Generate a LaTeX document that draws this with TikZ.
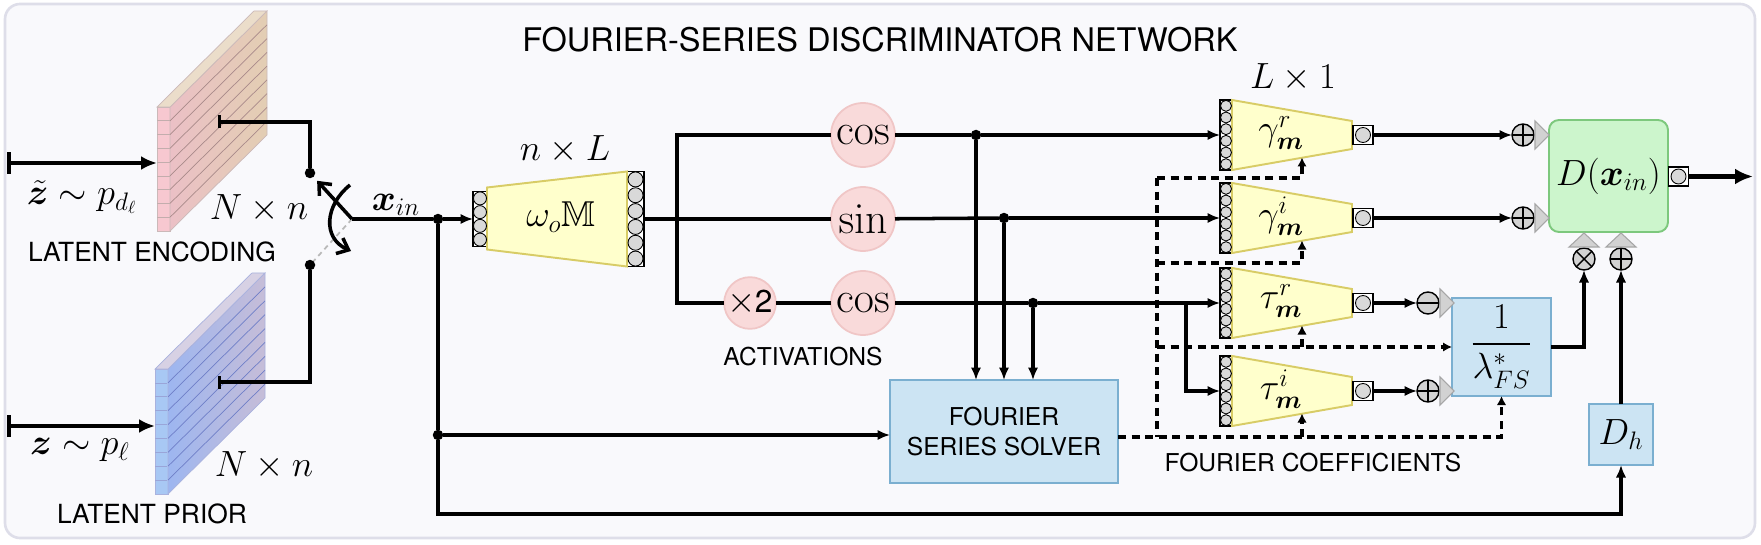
\documentclass[tikz,border=0pt]{standalone}
\usepackage[no-math]{fontspec}
\setsansfont{TeX Gyre Heros}
\usepackage{amsmath}
\usepackage{amssymb}
\usepackage{bm}
\usepackage{xcolor}
\usetikzlibrary{arrows.meta,calc}

\definecolor{framefill}{HTML}{F9F9FC}
\definecolor{frameline}{HTML}{DEDEE9}
\definecolor{trapfill}{HTML}{FFFFCC}
\definecolor{trapline}{HTML}{D8CC66}
\definecolor{actfill}{HTML}{F9DADA}
\definecolor{actline}{HTML}{F0C6C6}
\definecolor{boxfill}{HTML}{CCE4F3}
\definecolor{boxline}{HTML}{7BAFD0}
\definecolor{discfill}{HTML}{CCF5CC}
\definecolor{discline}{HTML}{7DC87D}
\definecolor{encfrontc}{HTML}{F7C8D0}
\definecolor{encleft}{HTML}{EBC0C6}
\definecolor{encright}{HTML}{E3CEB3}
\definecolor{encline}{HTML}{A98A8A}
\definecolor{priorfrontc}{HTML}{A8C8F4}
\definecolor{priorleft}{HTML}{9DB6F0}
\definecolor{priorright}{HTML}{C6BDD8}
\definecolor{priorline}{HTML}{6F7FC8}

\newcommand{\bigmath}{\fontsize{20.5}{24}\selectfont}
\newcommand{\actmath}{\fontsize{23}{26}\selectfont}
\newcommand{\captext}{\sffamily\fontsize{15}{18}\selectfont}
\newcommand{\smallcap}{\sffamily\fontsize{14}{17}\selectfont}
\newcommand{\titletext}{\sffamily\fontsize{18.5}{22}\selectfont}
\newcommand{\fillcol}[3]{\foreach \k in {1,...,#2}{\draw[line width=0.5pt,fill=gray!30] ($(#1.north)!{(\k-0.5)/#2}!(#1.south)$) circle (#3);}}

\tikzset{
  every node/.style={inner sep=0pt,outer sep=0pt},
  wire/.style={line width=2pt},
  arr/.style={wire,-{Latex[length=2.5mm,width=2.1mm]}},
  inarr/.style={line width=2.5pt,{Bar[width=4.4mm]}-{Latex[length=3.2mm,width=2.8mm]}},
  tapline/.style={line width=1.8pt,{Bar[width=2.6mm]}-},
  coef/.style={line width=1.8pt,dash pattern=on 1.6mm off 1.1mm},
  coefarr/.style={coef,-{Latex[length=1.8mm,width=1.9mm]}},
  dot/.style={circle,fill=black,minimum size=2.1mm},
  col/.style={draw=black,fill=white,line width=1.1pt},
  outsq/.style={col,minimum width=4mm,minimum height=3.8mm},
  trap/.style={draw=trapline,fill=trapfill,line width=1.1pt},
  act/.style={circle,draw=actline,fill=actfill,line width=1pt,minimum size=12.8mm,font=\actmath},
  solver/.style={draw=boxline,fill=boxfill,line width=1.1pt},
  opcirc/.style={circle,draw=black,fill=gray!35,line width=0.8pt,minimum size=4.4mm},
  plusop/.style={opcirc,path picture={\draw[line width=0.8pt]
      (path picture bounding box.north) -- (path picture bounding box.south)
      (path picture bounding box.west) -- (path picture bounding box.east);}},
  minusop/.style={opcirc,path picture={\draw[line width=0.8pt]
      (path picture bounding box.west) -- (path picture bounding box.east);}},
  timesop/.style={opcirc,path picture={\draw[line width=0.8pt]
      (path picture bounding box.north west) -- (path picture bounding box.south east)
      (path picture bounding box.south west) -- (path picture bounding box.north east);}},
  tri/.style={draw=gray!70,fill=gray!35,line width=0.6pt},
}

\begin{document}
\begin{tikzpicture}[x=0.2mm,y=-0.2mm]
        \useasboundingbox (0,0) rectangle (1761,545);
        \draw[draw=frameline,fill=framefill,line width=1.5pt,rounded corners=3mm] (5,4) rectangle (1755,538);
        \node[font=\titletext] (title) at (880,40) {FOURIER-SERIES DISCRIMINATOR NETWORK};

        % latent slabs
        \node[draw=encline!60,fill=encfrontc,line width=0.4pt,minimum width=2.6mm,minimum height=24.8mm] (encfront) at (163.5,169) {};
        \draw[draw=encline!60,left color=encleft,right color=encright,line width=0.4pt] (encfront.north east) -- ++(97,-96) -- ++(0,124) -- (encfront.south east) -- cycle;
        \draw[draw=encline!60,fill=encright!70,line width=0.4pt] (encfront.north west) -- (encfront.north east) -- ++(97,-96) -- ++(-13,0) -- cycle;
        \foreach \k in {1,...,8}{
          \draw[encline,line width=0.4pt] ($(encfront.north east)!\k/9!(encfront.south east)$) -- ++(97,-96);
          \draw[encline!70,line width=0.4pt] ($(encfront.north west)!\k/9!(encfront.south west)$) -- ++(13,0);
        }
        \node[draw=priorline!60,fill=priorfrontc,line width=0.4pt,minimum width=2.6mm,minimum height=25mm] (priorfront) at (161.5,431.5) {};
        \draw[draw=priorline!60,left color=priorleft,right color=priorright,line width=0.4pt] (priorfront.north east) -- ++(97,-96) -- ++(0,125) -- (priorfront.south east) -- cycle;
        \draw[draw=priorline!60,fill=priorright!70,line width=0.4pt] (priorfront.north west) -- (priorfront.north east) -- ++(97,-96) -- ++(-13,0) -- cycle;
        \foreach \k in {1,...,8}{
          \draw[priorline,line width=0.4pt] ($(priorfront.north east)!\k/9!(priorfront.south east)$) -- ++(97,-96);
          \draw[priorline!70,line width=0.4pt] ($(priorfront.north west)!\k/9!(priorfront.south west)$) -- ++(12,0);
        }

        \coordinate (ztsrc) at (7,163);
        \coordinate (zsrc) at (7,426);
        \draw[inarr] (ztsrc) -- (ztsrc -| encfront.west);
        \draw[inarr] (zsrc) -- (zsrc -| priorfront.west);
        \node[font=\bigmath] (ztlab) at (82,197) {$\tilde{\bm z}\sim p_{d_\ell}$};
        \node[font=\bigmath] (zlab) at (80,450) {$\bm z\sim p_\ell$};
        \node[font=\bigmath] (encdim) at (259,209) {$N\times n$};
        \node[font=\bigmath] (priordim) at (264,466) {$N\times n$};
        \node[font=\captext] (enctext) at (152,252) {LATENT ENCODING};
        \node[font=\captext] (priortext) at (152,514) {LATENT PRIOR};

        % switch
        \node[dot] (dtop) at (310,173) {};
        \node[dot] (dbot) at (310,265) {};
        \coordinate (encout) at (218,122);
        \coordinate (priorout) at (218,382);
        \coordinate (pivot) at (352,219);
        \draw[tapline] (encout) -| (dtop);
        \draw[tapline] (priorout) -| (dbot);
        \draw[gray!55,line width=1pt,dash pattern=on 1mm off 0.8mm] (pivot) -- (dbot);
        \draw[wire,-{Straight Barb[length=2mm,width=3.4mm]}] (pivot) -- ($(pivot)!0.83!(dtop)$);
        \coordinate (swa) at (350,185);
        \coordinate (swb) at (351,251);
        \draw[wire,-{Straight Barb[length=2mm,width=3.4mm]}] (swa) .. controls (325,205) and (322,238) .. (swb);
        \node[font=\bigmath,anchor=south] (xin) at (396,216) {$\bm x_{in}$};

        % omega layer
        \node[col,minimum width=2.8mm,minimum height=11mm] (win) at (480,219) {};
        \node[col,minimum width=3.4mm,minimum height=19mm] (wout) at (635.5,219) {};
        \draw[trap] ($(win.north east)+(0,-4)$) -- (wout.north west) -- (wout.south west) -- ($(win.south east)+(0,3)$) -- cycle;
        \fillcol{win}{4}{1.3mm}
        \fillcol{wout}{6}{1.5mm}
        \node[font=\bigmath] (wlab) at (561,217) {$\omega_o\mathbb{M}$};
        \node[font=\bigmath] (wdim) at (565,150) {$n\times L$};

        \node[dot] (jin) at (438,219) {};
        \node[dot] (jfs) at (438,435) {};
        \draw[wire] (pivot) -- (jin);
        \draw[arr] (jin) -- (win);
        \draw[wire] (jin) -- (jfs);

        % activations
        \node[act] (cosa) at (863,135) {$\cos$};
        \node[act] (sina) at (863,219) {$\sin$};
        \node[act] (cosb) at (863,303) {$\cos$};
        \node[act,minimum size=10mm,font=\sffamily\fontsize{18}{22}\selectfont] (dbl) at (750,303) {{\fontsize{20}{22}\selectfont$\times$}\kern-0.5pt2};
        \node[font=\smallcap] (acttext) at (803,357) {ACTIVATIONS};
        \coordinate (fork) at (677,219);
        \draw[wire] (wout) -- (sina);
        \draw[wire] (fork) |- (cosa);
        \draw[wire] (fork) |- (dbl);
        \draw[wire] (dbl) -- (cosb);

        % solver
        \node[solver,minimum width=45.6mm,minimum height=20.6mm,font=\smallcap,align=center] (solver) at (1004,431.5) {FOURIER\\SERIES SOLVER};
        \draw[arr] (jfs) -- (jfs -| solver.west);

        % coefficient layers
        \foreach \nm/\yy/\lab in {gr/135/\gamma^r, gi/218/\gamma^i, tr/303/\tau^r, ti/391/\tau^i}{
          \node[col,minimum width=2.4mm,minimum height=14mm] (\nm-in) at (1226,\yy) {};
          \draw[trap] (\nm-in.north east) -- ++(120,21) -- ++(0,28) -- (\nm-in.south east) -- cycle;
          \fillcol{\nm-in}{6}{1.1mm}
          \node[outsq] (\nm-out) at (1363,\yy) {};
          \draw[fill=gray!30,line width=0.5pt] (\nm-out) circle (1.5mm);
          \node[font=\bigmath] (\nm-lab) at (1281,\yy-2) {$\lab_{\bm m}$};
          \coordinate (\nm-tip) at (1302,\yy+22.5);
        }
        \node[font=\bigmath] (gdim) at (1293,78) {$L\times 1$};

        \node[dot] (j1) at (976,135) {};
        \node[dot] (j2) at (1004,218) {};
        \node[dot] (j3) at (1033,303) {};
        \draw[wire] (cosa) -- (j1);
        \draw[arr] (j1) -- (gr-in);
        \draw[wire] (sina) -- (j2);
        \draw[arr] (j2) -- (gi-in);
        \draw[wire] (cosb) -- (j3);
        \draw[arr] (j3) -- (tr-in);
        \draw[arr] (j1) -- (j1 |- solver.north);
        \draw[arr] (j2) -- (j2 |- solver.north);
        \draw[arr] (j3) -- (j3 |- solver.north);
        \coordinate (fork3) at (1186,303);
        \draw[arr] (fork3) |- (ti-in);

        % output blocks
        \node[solver,minimum width=19.8mm,minimum height=19.6mm,font=\bigmath] (lam) at (1501.5,347) {$\dfrac{1}{\lambda^*_{FS}}$};
        \node[solver,minimum width=12.8mm,minimum height=12.2mm,font=\bigmath] (dh) at (1621,434.5) {$D_h$};
        \node[draw=discline,fill=discfill,line width=1.1pt,rounded corners=2mm,minimum width=23.8mm,minimum height=22.4mm,font=\bigmath] (disc) at (1608.5,176) {$D(\bm x_{in})$};
        \node[outsq] (dout) at (1678.5,176.5) {};
        \draw[fill=gray!30,line width=0.5pt] (dout) circle (1.5mm);
        \coordinate (dend) at (1753,176.5);
        \draw[line width=3pt,-{Latex[length=3.6mm,width=3.2mm]}] (dout) -- (dend);

        \node[plusop] (sgr) at (1523,135) {};
        \node[plusop] (sgi) at (1523,218) {};
        \node[minusop] (str) at (1428,303) {};
        \node[plusop] (sti) at (1428,391) {};
        \node[timesop] (mul) at (1584,259) {};
        \node[plusop] (addd) at (1621,259) {};
        \foreach \op in {sgr,sgi,str,sti}{
          \draw[tri] ($(\op.east)+(1,-14)$) -- ($(\op.east)+(15,0)$) -- ($(\op.east)+(1,14)$) -- cycle;
        }
        \foreach \op in {mul,addd}{
          \draw[tri] ($(\op.north)+(-15,-1)$) -- ($(\op.north)+(0,-15)$) -- ($(\op.north)+(15,-1)$) -- cycle;
        }
        \draw[arr] (gr-out) -- (sgr);
        \draw[arr] (gi-out) -- (sgi);
        \draw[arr] (tr-out) -- (str);
        \draw[arr] (ti-out) -- (sti);
        \draw[arr] (lam.east) -| (mul);
        \draw[arr] (dh) -- (addd);
        \coordinate (lowturn) at (438,514);
        \draw[arr] (jfs) -- (lowturn) -| (dh);

        % fourier coefficients
        \coordinate (vtop) at (1157,178);
        \coordinate (h2) at (1157,263);
        \coordinate (h3) at (1157,347);
        \coordinate (h4) at (1157,437);
        \draw[coef] (vtop) -- (h4);
        \draw[coefarr] (vtop) -| (gr-tip);
        \draw[coefarr] (h2) -| (gi-tip);
        \draw[coefarr] (h3) -- (h3 -| lam.west);
        \draw[coefarr] (tr-tip |- h3) -- (tr-tip);
        \draw[coefarr] (solver.east |- h4) -| (lam.south);
        \draw[coefarr] (ti-tip |- h4) -- (ti-tip);
        \node[font=\smallcap] (coeftext) at (1313,463) {FOURIER COEFFICIENTS};
\end{tikzpicture}
\end{document}
